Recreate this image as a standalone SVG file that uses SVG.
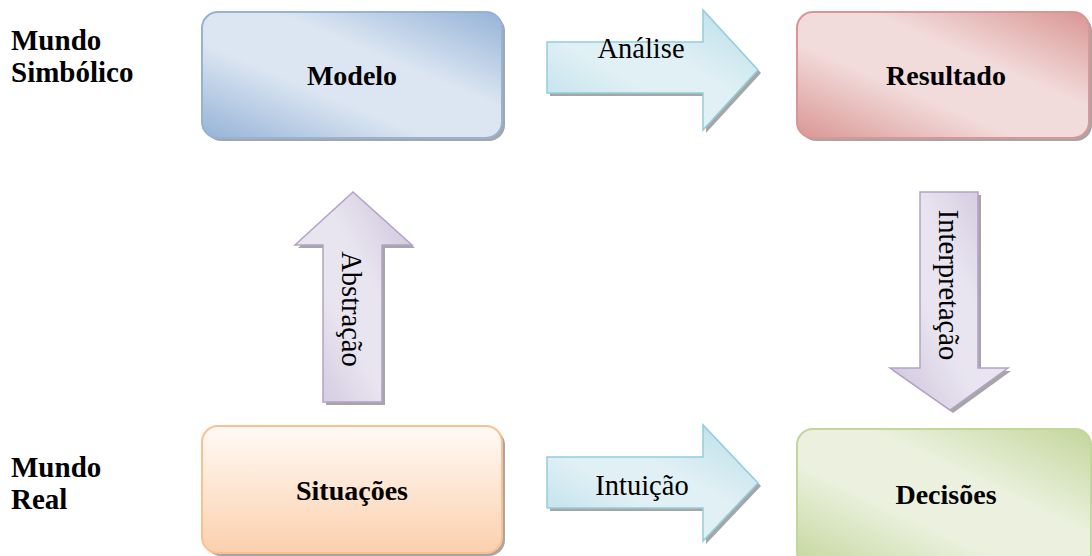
<svg xmlns="http://www.w3.org/2000/svg" width="1092" height="556" viewBox="0 0 1092 556">
  <defs>
    <linearGradient id="gBlue" x1="0" y1="1" x2="1" y2="0">
      <stop offset="0" stop-color="#95b3d7"/>
      <stop offset="0.38" stop-color="#dce6f2"/>
      <stop offset="0.62" stop-color="#dce6f2"/>
      <stop offset="1" stop-color="#95b3d7"/>
    </linearGradient>
    <linearGradient id="gRed" x1="0" y1="1" x2="1" y2="0">
      <stop offset="0" stop-color="#d99694"/>
      <stop offset="0.38" stop-color="#f2dcdb"/>
      <stop offset="0.62" stop-color="#f2dcdb"/>
      <stop offset="1" stop-color="#d99694"/>
    </linearGradient>
    <linearGradient id="gGreen" x1="0" y1="1" x2="1" y2="0">
      <stop offset="0" stop-color="#c3d69b"/>
      <stop offset="0.38" stop-color="#ebf1de"/>
      <stop offset="0.62" stop-color="#ebf1de"/>
      <stop offset="1" stop-color="#c3d69b"/>
    </linearGradient>
    <linearGradient id="gOrange" x1="0" y1="0" x2="0" y2="1">
      <stop offset="0" stop-color="#fffaf6"/>
      <stop offset="1" stop-color="#fbd0ad"/>
    </linearGradient>
    <linearGradient id="gCyan" x1="0" y1="1" x2="1" y2="0">
      <stop offset="0" stop-color="#b7dde8"/>
      <stop offset="0.4" stop-color="#e0f0f5"/>
      <stop offset="0.6" stop-color="#e0f0f5"/>
      <stop offset="1" stop-color="#b7dde8"/>
    </linearGradient>
    <linearGradient id="gPurple" x1="0" y1="1" x2="1" y2="0">
      <stop offset="0" stop-color="#ccc1da"/>
      <stop offset="0.4" stop-color="#e9e5f0"/>
      <stop offset="0.6" stop-color="#e9e5f0"/>
      <stop offset="1" stop-color="#ccc1da"/>
    </linearGradient>
  </defs>
  <style>
    text { font-family: "Liberation Serif", Tinos, "Times New Roman", "DejaVu Serif", serif; fill: #000; }
    .shadow { fill: #a6a6a6; }
    .lbl { font-weight: bold; font-size: 29px; }
    .box { font-weight: bold; font-size: 28px; text-anchor: middle; }
    .arw { font-size: 28.5px; text-anchor: middle; }
    .blue { fill: url(#gBlue); stroke: #95b3d7; stroke-width: 2; }
    .red { fill: url(#gRed); stroke: #d99694; stroke-width: 2; }
    .green { fill: url(#gGreen); stroke: #c3d69b; stroke-width: 2; }
    .orange { fill: url(#gOrange); stroke: #fac090; stroke-width: 2; }
    .cyan { fill: url(#gCyan); stroke: #92cddc; stroke-width: 1.5; }
    .purple { fill: url(#gPurple); stroke: #b3a2c7; stroke-width: 1.5; }
  </style>

  <!-- side labels -->
  <text class="lbl" x="11" y="50">Mundo</text>
  <text class="lbl" x="11" y="82">Simbólico</text>
  <text class="lbl" x="11" y="477">Mundo</text>
  <text class="lbl" x="11" y="509">Real</text>

  <g id="modelo">
    <rect class="shadow" x="205" y="15" width="300" height="126" rx="16"/>
    <rect class="blue" x="202" y="12" width="300" height="126" rx="16"/>
    <text class="box" x="352" y="85">Modelo</text>
  </g>

  <g id="resultado">
    <rect class="shadow" x="800" y="15" width="292" height="126" rx="16"/>
    <rect class="red" x="797" y="12" width="292" height="126" rx="16"/>
    <text class="box" x="946" y="85">Resultado</text>
  </g>

  <g id="situacoes">
    <rect class="shadow" x="205" y="429" width="300" height="127" rx="16"/>
    <rect class="orange" x="202" y="426" width="300" height="127" rx="16"/>
    <text class="box" x="352" y="500">Situações</text>
  </g>

  <g id="decisoes">
    <rect class="green" x="797" y="429" width="294" height="140" rx="16"/>
    <text class="box" x="946" y="504">Decisões</text>
  </g>

  <g id="connectors">
    <g id="analise">
      <polygon class="shadow" points="550,45 706,45 706,13 761,73 706,133 706,96 550,96"/>
      <polygon class="cyan" points="547,42 703,42 703,10 758,70 703,130 703,93 547,93"/>
      <text class="arw" x="641" y="58">Análise</text>
    </g>
    <g id="intuicao">
      <polygon class="shadow" points="550,460 706,460 706,428 761,486 706,544 706,511 550,511"/>
      <polygon class="cyan" points="547,457 703,457 703,425 758,483 703,541 703,508 547,508"/>
      <text class="arw" x="642" y="495">Intuição</text>
    </g>
    <g id="abstracao">
      <polygon class="shadow" points="326,248 298,248 356,195 415,248 385,248 385,405 326,405"/>
      <polygon class="purple" points="323,245 295,245 353,192 412,245 382,245 382,402 323,402"/>
      <text class="arw" transform="translate(342,309) rotate(90)">Abstração</text>
    </g>
    <g id="interpretacao">
      <polygon class="shadow" points="923,195 981,195 981,371 1011,371 953,413 893,371 923,371"/>
      <polygon class="purple" points="920,192 978,192 978,368 1008,368 950,410 890,368 920,368"/>
      <text class="arw" transform="translate(939,285) rotate(90)">Interpretação</text>
    </g>
  </g>
</svg>
